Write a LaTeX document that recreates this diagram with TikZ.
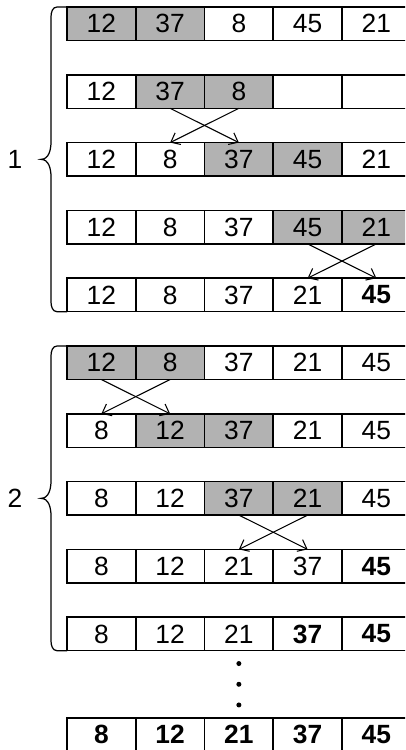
\documentclass[tikz,border=0pt]{standalone}
\usepackage{fontspec}
\setmainfont{Liberation Sans}
\usetikzlibrary{arrows.meta,positioning,calc}
\tikzset{
    cell/.style={draw, line width=0.9pt, minimum width=1.375cm, minimum height=0.67cm,
    inner sep=0pt, outer sep=0pt, font=\fontsize{15}{18}\selectfont},
    hot/.style={fill=black!30},
    done/.style={font=\fontsize{15}{18}\selectfont\bfseries},
    passlabel/.style={font=\fontsize{15}{18}\selectfont},
    swaparrow/.style={line width=0.6pt, -{Straight Barb[length=1.6mm,width=2.6mm]}},
    bracepath/.style={line width=0.7pt},
    dotmark/.style={circle, fill, inner sep=0pt, minimum size=0.1cm},
}

\begin{document}
\begin{tikzpicture}[node distance=0pt]
            \clip (0,0) rectangle (8.1,-15);
            % --- pass 1 ---
            \node[cell, hot, anchor=north west] (r1c1) at (1.34,-0.14) {12};
            \node[cell, hot, right=of r1c1] (r1c2) {37};
            \node[cell, right=of r1c2] (r1c3) {8};
            \node[cell, right=of r1c3] (r1c4) {45};
            \node[cell, right=of r1c4] (r1c5) {21};
            \node[cell, anchor=north west] (r2c1) at (1.34,-1.496) {12};
            \node[cell, hot, right=of r2c1] (r2c2) {37};
            \node[cell, hot, right=of r2c2] (r2c3) {8};
            \node[cell, right=of r2c3] (r2c4) {};
            \node[cell, right=of r2c4] (r2c5) {};
            \node[cell, anchor=north west] (r3c1) at (1.34,-2.852) {12};
            \node[cell, right=of r3c1] (r3c2) {8};
            \node[cell, hot, right=of r3c2] (r3c3) {37};
            \node[cell, hot, right=of r3c3] (r3c4) {45};
            \node[cell, right=of r3c4] (r3c5) {21};
            \node[cell, anchor=north west] (r4c1) at (1.34,-4.208) {12};
            \node[cell, right=of r4c1] (r4c2) {8};
            \node[cell, right=of r4c2] (r4c3) {37};
            \node[cell, hot, right=of r4c3] (r4c4) {45};
            \node[cell, hot, right=of r4c4] (r4c5) {21};
            \node[cell, anchor=north west] (r5c1) at (1.34,-5.564) {12};
            \node[cell, right=of r5c1] (r5c2) {8};
            \node[cell, right=of r5c2] (r5c3) {37};
            \node[cell, right=of r5c3] (r5c4) {21};
            \node[cell, done, right=of r5c4] (r5c5) {45};
            \draw[swaparrow] (r2c2.south) -- (r3c3.north);
            \draw[swaparrow] (r2c3.south) -- (r3c2.north);
            \draw[swaparrow] (r4c4.south) -- (r5c5.north);
            \draw[swaparrow] (r4c5.south) -- (r5c4.north);
            % --- pass 2 ---
            \node[cell, hot, anchor=north west] (r6c1) at (1.34,-6.92) {12};
            \node[cell, hot, right=of r6c1] (r6c2) {8};
            \node[cell, right=of r6c2] (r6c3) {37};
            \node[cell, right=of r6c3] (r6c4) {21};
            \node[cell, right=of r6c4] (r6c5) {45};
            \node[cell, anchor=north west] (r7c1) at (1.34,-8.276) {8};
            \node[cell, hot, right=of r7c1] (r7c2) {12};
            \node[cell, hot, right=of r7c2] (r7c3) {37};
            \node[cell, right=of r7c3] (r7c4) {21};
            \node[cell, right=of r7c4] (r7c5) {45};
            \node[cell, anchor=north west] (r8c1) at (1.34,-9.632) {8};
            \node[cell, right=of r8c1] (r8c2) {12};
            \node[cell, hot, right=of r8c2] (r8c3) {37};
            \node[cell, hot, right=of r8c3] (r8c4) {21};
            \node[cell, right=of r8c4] (r8c5) {45};
            \node[cell, anchor=north west] (r9c1) at (1.34,-10.988) {8};
            \node[cell, right=of r9c1] (r9c2) {12};
            \node[cell, right=of r9c2] (r9c3) {21};
            \node[cell, right=of r9c3] (r9c4) {37};
            \node[cell, done, right=of r9c4] (r9c5) {45};
            \node[cell, anchor=north west] (r10c1) at (1.34,-12.344) {8};
            \node[cell, right=of r10c1] (r10c2) {12};
            \node[cell, right=of r10c2] (r10c3) {21};
            \node[cell, done, right=of r10c3] (r10c4) {37};
            \node[cell, done, right=of r10c4] (r10c5) {45};
            \draw[swaparrow] (r6c1.south) -- (r7c2.north);
            \draw[swaparrow] (r6c2.south) -- (r7c1.north);
            \draw[swaparrow] (r8c3.south) -- (r9c4.north);
            \draw[swaparrow] (r8c4.south) -- (r9c3.north);
            % --- braces ---
            \coordinate (b1top) at (r1c1.north west);
            \coordinate (b1bot) at (r5c1.south west);
            \draw[bracepath] (b1top) -- ++(-0.2,0) to[out=180,in=90] ++(-0.12,-0.2)
                -- ($(b1top)!0.5!(b1bot)+(-0.32,0.35)$) to[out=-90,in=0] ++(-0.2,-0.35) coordinate (b1tip)
                to[out=0,in=90] ++(0.2,-0.35) -- ($(b1bot)+(-0.32,0.2)$)
                to[out=-90,in=180] ++(0.12,-0.2) -- (b1bot);
            \node[passlabel, left=0.25cm of b1tip] (p1) {1};
            \coordinate (b2top) at (r6c1.north west);
            \coordinate (b2bot) at (r10c1.south west);
            \draw[bracepath] (b2top) -- ++(-0.2,0) to[out=180,in=90] ++(-0.12,-0.2)
                -- ($(b2top)!0.5!(b2bot)+(-0.32,0.35)$) to[out=-90,in=0] ++(-0.2,-0.35) coordinate (b2tip)
                to[out=0,in=90] ++(0.2,-0.35) -- ($(b2bot)+(-0.32,0.2)$)
                to[out=-90,in=180] ++(0.12,-0.2) -- (b2bot);
            \node[passlabel, left=0.25cm of b2tip] (p2) {2};
            % --- remaining passes ---
            \node[dotmark, below=0.2cm of r10c3] (v1) {};
            \node[dotmark, below=0.3cm of v1] (v2) {};
            \node[dotmark, below=0.3cm of v2] (v3) {};
            \node[cell, done, anchor=north west] (r11c1) at (1.34,-14.36) {8};
            \node[cell, done, right=of r11c1] (r11c2) {12};
            \node[cell, done, right=of r11c2] (r11c3) {21};
            \node[cell, done, right=of r11c3] (r11c4) {37};
            \node[cell, done, right=of r11c4] (r11c5) {45};
        \end{tikzpicture}
\end{document}
